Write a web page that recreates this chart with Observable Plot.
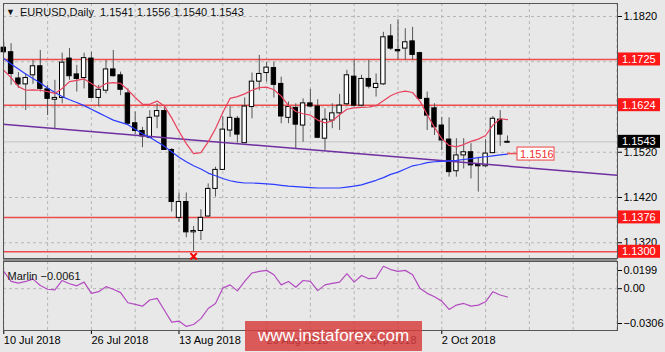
<!DOCTYPE html>
<html><head><meta charset="utf-8">
<script src="https://cdn.jsdelivr.net/npm/d3@7"></script>
<script src="https://cdn.jsdelivr.net/npm/@observablehq/plot@0.6"></script>
<style>
html,body{margin:0;padding:0;background:#e8e8e8;}
#wrap{position:relative;width:665px;height:352px;overflow:hidden;background:#e8e8e8;font-family:"Liberation Sans",Arial,sans-serif;}
#main{position:absolute;left:0;top:0;z-index:2;}
#sub{position:absolute;left:0;top:258px;}
#sep{position:absolute;left:3px;top:258px;width:614px;height:3px;background:#8e8e8e;z-index:1;}
#wm{position:absolute;left:245px;top:321px;width:177px;height:30px;background:rgba(214,62,62,0.84);color:#fff;font-size:17px;line-height:30px;text-align:center;font-family:"Liberation Sans",Arial,sans-serif;z-index:3;}
</style></head>
<body>
<div id="wrap"><div id="main"></div><div id="sep"></div><div id="sub"></div><div id="wm">www.instaforex.com</div></div>
<script>
// ---- data ----
const symbol = "EURUSD,Daily";
const open = [
 1.1751,1.1741,1.1683,1.1670,1.1690,1.1710,1.1659,1.1636,1.1640,1.1727,
 1.1692,1.1684,1.1727,1.1640,1.1656,1.1703,1.1690,1.1650,1.1584,1.1567,
 1.1552,1.1599,1.1611,1.1525,1.1375,1.1410,1.1343,1.1346,1.1378,1.1439,
 1.1481,1.1568,1.1594,1.1540,1.1620,1.1676,1.1695,1.1706,1.1671,1.1596,
 1.1618,1.1579,1.1628,1.1621,1.1550,1.1590,1.1606,1.1626,1.1687,1.1623,
 1.1682,1.1662,1.1670,1.1776,1.1746,1.1749,1.1765,1.1739,1.1638,1.1617,
 1.1579,1.1548,1.1478,1.1513,1.1520,1.1493,1.1489,1.1518,1.1592,1.1541];
const high = [
 1.1763,1.1760,1.1696,1.1693,1.1723,1.1745,1.1668,1.1679,1.1739,1.1749,
 1.1712,1.1739,1.1741,1.1668,1.1723,1.1745,1.1697,1.1660,1.1609,1.1575,
 1.1612,1.1627,1.1620,1.1528,1.1430,1.1430,1.1356,1.1393,1.1450,1.1487,
 1.1599,1.1621,1.1599,1.1640,1.1695,1.1734,1.1719,1.1719,1.1686,1.1631,
 1.1627,1.1638,1.1659,1.1636,1.1616,1.1627,1.1648,1.1701,1.1723,1.1690,
 1.1723,1.1693,1.1785,1.1802,1.1813,1.1793,1.1796,1.1741,1.1653,1.1627,
 1.1597,1.1596,1.1550,1.1550,1.1539,1.1509,1.1548,1.1599,1.1612,1.1556];
const low = [
 1.1738,1.1668,1.1661,1.1612,1.1670,1.1653,1.1601,1.1572,1.1627,1.1679,
 1.1653,1.1660,1.1638,1.1620,1.1649,1.1686,1.1645,1.1579,1.1559,1.1530,
 1.1550,1.1572,1.1524,1.1388,1.1365,1.1331,1.1301,1.1325,1.1377,1.1421,
 1.1480,1.1553,1.1540,1.1539,1.1594,1.1656,1.1675,1.1640,1.1583,1.1583,
 1.1528,1.1542,1.1620,1.1550,1.1524,1.1572,1.1568,1.1623,1.1620,1.1620,
 1.1660,1.1642,1.1668,1.1745,1.1724,1.1723,1.1723,1.1636,1.1568,1.1557,
 1.1524,1.1465,1.1465,1.1483,1.1461,1.1432,1.1487,1.1517,1.1533,1.1540];
const close = [
 1.1741,1.1693,1.1670,1.1684,1.1710,1.1660,1.1638,1.1640,1.1718,1.1688,
 1.1682,1.1728,1.1640,1.1658,1.1703,1.1688,1.1658,1.1583,1.1567,1.1555,
 1.1596,1.1611,1.1525,1.1410,1.1410,1.1343,1.1346,1.1375,1.1439,1.1481,
 1.1570,1.1596,1.1559,1.1621,1.1676,1.1693,1.1707,1.1669,1.1599,1.1620,
 1.1581,1.1628,1.1621,1.1552,1.1592,1.1606,1.1623,1.1690,1.1623,1.1682,
 1.1665,1.1671,1.1774,1.1749,1.1743,1.1763,1.1735,1.1638,1.1601,1.1575,
 1.1546,1.1476,1.1513,1.1520,1.1491,1.1489,1.1517,1.1594,1.1559,1.1543];
const redMA = [
 1.1701,1.1685,1.1665,1.1657,1.1658,1.1657,1.1654,1.1650,1.1661,1.1676,
 1.1679,1.1682,1.1672,1.1662,1.1672,1.1674,1.1672,1.1658,1.1641,1.1626,
 1.1626,1.1633,1.1622,1.1596,1.1566,1.1539,1.1517,1.1519,1.1543,1.1572,
 1.1608,1.1639,1.1643,1.1649,1.1657,1.1663,1.1664,1.1658,1.1644,1.1623,
 1.1610,1.1605,1.1602,1.1591,1.1585,1.1589,1.1603,1.1615,1.1618,1.1619,
 1.1620,1.1623,1.1634,1.1645,1.1652,1.1655,1.1652,1.1633,1.1603,1.1575,
 1.1550,1.1535,1.1532,1.1537,1.1544,1.1549,1.1557,1.1580,1.1594,1.1592];
const blueMA = [
 1.1727,1.1715,1.1704,1.1693,1.1683,1.1673,1.1662,1.1652,1.1643,1.1636,
 1.1630,1.1623,1.1615,1.1607,1.1599,1.1591,1.1586,1.1581,1.1571,1.1561,
 1.1553,1.1543,1.1533,1.1521,1.1509,1.1499,1.1490,1.1483,1.1474,1.1468,
 1.1462,1.1457,1.1454,1.1452,1.1452,1.1451,1.1450,1.1449,1.1447,1.1445,
 1.1444,1.1443,1.1442,1.1441,1.1441,1.1441,1.1441,1.1443,1.1445,1.1448,
 1.1453,1.1458,1.1464,1.1471,1.1476,1.1483,1.1490,1.1493,1.1497,1.1499,
 1.1500,1.1501,1.1502,1.1504,1.1506,1.1508,1.1510,1.1512,1.1514,1.1516];
const marlin = [
 0.0127,0.0053,0.0041,0.0053,0.0070,0.0023,-0.0004,-0.0009,0.0060,0.0036,
 0.0021,0.0048,-0.0034,-0.0022,0.0015,-0.0004,-0.0029,-0.0103,-0.0115,-0.0128,
 -0.0083,-0.0071,-0.0158,-0.0245,-0.0237,-0.0276,-0.0262,-0.0219,-0.0145,-0.0108,
 0.0004,0.0028,-0.0016,0.0053,0.0115,0.0127,0.0134,0.0102,0.0028,0.0053,
 0.0011,0.0060,0.0053,-0.0014,0.0028,0.0039,0.0048,0.0110,0.0048,0.0097,
 0.0073,0.0078,0.0164,0.0140,0.0127,0.0134,0.0102,0.0004,-0.0034,-0.0059,
 -0.0091,-0.0152,-0.0120,-0.0108,-0.0128,-0.0120,-0.0096,-0.0022,-0.0046,-0.0061];
const trendIdx = [-1, 85];
const trendPrice = [1.1583, 1.1468];
const levels = [1.1725, 1.1624, 1.1376, 1.1300];
const priceGrid = [1.1820, 1.1720, 1.1620, 1.1520, 1.1420, 1.1320];
const priceTickLabels = [1.1820, 1.1520, 1.1420, 1.1320];
const timeGrid = [0, 6, 12, 18, 24, 30, 36, 42, 48, 54, 60, 66, 72, 78, 84];
const xTickIdx = [0, 12, 24, 36, 48, 60];
const xTickLabels = ["10 Jul 2018", "26 Jul 2018", "13 Aug 2018", "29 Aug 2018", "17 Sep 2018", "2 Oct 2018"];
const fractalIdx = [26];
const marlinTicks = [0.0199, 0.00, -0.0306];

// ---- build tables ----
const idx = open.map((_, i) => i);
const candles = idx.map(i => ({i, o: open[i], h: high[i], l: low[i], c: close[i]}));
const trend = trendIdx.map((i, k) => ({i, p: trendPrice[k]}));
const fractals = fractalIdx.map(i => ({i, p: low[i]}));
const last = idx.length - 1;
const lastPrice = close[last];
const f4 = d3.format(".4f");
const FONT = "Liberation Sans, Arial, sans-serif";
const X_DOMAIN = [-0.04, 84.07];
const dashed = {stroke: "#b6b6b6", strokeDasharray: "3,3"};

const main = Plot.plot({
  width: 665, height: 260,
  marginTop: 3, marginBottom: 2, marginLeft: 3, marginRight: 48,
  style: {background: "transparent", fontFamily: FONT, fontSize: "11px", color: "#000"},
  x: {domain: X_DOMAIN, axis: null},
  y: {domain: [1.12852, 1.18487], axis: null},
  marks: [
    Plot.ruleY(priceGrid, dashed),
    Plot.ruleX(timeGrid, dashed),
    Plot.ruleY([lastPrice], {stroke: "#c4c4c4"}),
    Plot.ruleY(levels, {stroke: "#f03a3a", strokeWidth: 1.5, strokeOpacity: 0.9}),
    Plot.ruleX(candles, {x: "i", y1: "l", y2: "h", stroke: "#555"}),
    Plot.rect(candles, {x1: d => d.i - 0.3, x2: d => d.i + 0.3, y1: "o", y2: "c",
      fill: d => d.c >= d.o ? "#fff" : "#000", stroke: "#000", strokeWidth: 1}),
    Plot.line(trend, {x: "i", y: "p", stroke: "#6e2fa0", strokeWidth: 1.5, clip: true}),
    Plot.line(idx, {x: i => i, y: i => blueMA[i], stroke: "#2a3cff", strokeWidth: 1.2}),
    Plot.line(idx, {x: i => i, y: i => redMA[i], stroke: "#e8425e", strokeWidth: 1.2}),
    Plot.axisY(priceTickLabels, {anchor: "right", tickSize: 4, tickPadding: 2, tickFormat: f4, fontSize: 11}),
    Plot.axisY([1.1720, 1.1620], {anchor: "right", tickSize: 4, tickFormat: null, text: null}),
    Plot.frame({stroke: "#555"}),
    Plot.dot(fractals, {x: "i", y: "p", symbol: "times", r: 3, stroke: "#f00", strokeWidth: 2, dy: 5})
  ]
});
document.getElementById("main").appendChild(main);

// annotations placed through the plot's own scales
const xs = main.scale("x"), ys = main.scale("y");
const g = d3.select(main).append("g")
  .attr("text-anchor", "start")
  .style("font-family", FONT).style("font-size", "11px");
// title
g.append("text").attr("x", 6).attr("y", 15).attr("font-size", 9).attr("fill", "#111").text("▼");
g.append("text").attr("x", 20).attr("y", 16).attr("fill", "#111").attr("xml:space", "preserve").style("white-space", "pre")
  .text(`${symbol}  ${f4(open[last])} ${f4(high[last])} ${f4(low[last])} ${f4(close[last])}`);
// right-side level labels
const boxes = levels.map(v => ({v, fill: "#ff1818"})).concat([{v: lastPrice, fill: "#000"}]);
boxes.forEach(b => {
  const y = ys.apply(b.v);
  g.append("rect").attr("x", 618).attr("y", y - 6.5).attr("width", 42).attr("height", 13).attr("fill", b.fill);
  g.append("text").attr("x", 622).attr("y", y).attr("dy", "0.36em").attr("fill", "#fff").text(f4(b.v));
});
// blue MA value tag
{
  const x0 = xs.apply(last), y0 = ys.apply(blueMA[last]);
  g.append("line").attr("x1", x0).attr("x2", x0 + 10).attr("y1", y0).attr("y2", y0).attr("stroke", "#f05050").attr("stroke-width", 1.5);
  g.append("rect").attr("x", x0 + 10).attr("y", y0 - 6.5).attr("width", 37).attr("height", 13)
    .attr("fill", "#fff").attr("stroke", "#f04040");
  g.append("text").attr("x", x0 + 13).attr("y", y0).attr("dy", "0.36em").attr("fill", "#f03030").text(f4(blueMA[last]));
}

const labelByIdx = new Map(xTickIdx.map((d, k) => [d, xTickLabels[k]]));
const sub = Plot.plot({
  width: 665, height: 94,
  marginTop: 3, marginBottom: 22, marginLeft: 3, marginRight: 48,
  style: {background: "transparent", fontFamily: FONT, fontSize: "11px", color: "#000"},
  x: {domain: X_DOMAIN, axis: null},
  y: {domain: [marlinTicks[2], marlinTicks[0]], axis: null},
  marks: [
    Plot.ruleX(timeGrid, dashed),
    Plot.ruleY([0], dashed),
    Plot.line(idx, {x: i => i, y: i => marlin[i], stroke: "#b34cc0", strokeWidth: 1.2}),
    Plot.text([`Marlin ${f4(marlin[last])}`], {frameAnchor: "top-left", dx: 4, dy: 11, textAnchor: "start", fontSize: 11, fill: "#111"}),
    Plot.axisY([marlinTicks[0]], {anchor: "right", tickSize: 4, tickPadding: 2, tickFormat: f4, fontSize: 11, dy: 9}),
    Plot.axisY([marlinTicks[1]], {anchor: "right", tickSize: 4, tickPadding: 2, tickFormat: d3.format(".2f"), fontSize: 11}),
    Plot.axisY([marlinTicks[2]], {anchor: "right", tickSize: 4, tickPadding: 2, tickFormat: f4, fontSize: 11, dy: -7}),
    Plot.axisX(xTickIdx, {anchor: "bottom", tickSize: 4, tickPadding: 2, tickFormat: d => labelByIdx.get(d), textAnchor: "start", fontSize: 11}),
    Plot.frame({stroke: "#555"})
  ]
});
document.getElementById("sub").appendChild(sub);
</script>
</body></html>
